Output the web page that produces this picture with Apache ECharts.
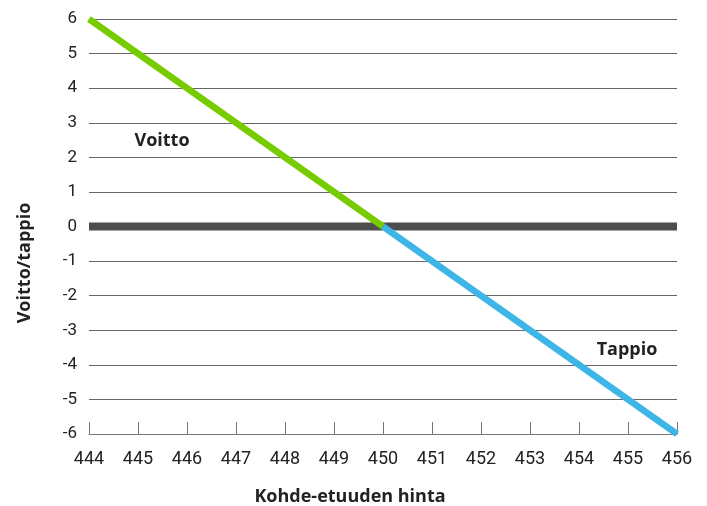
<!DOCTYPE html>
<html><head><meta charset="utf-8">
<script src="https://cdn.jsdelivr.net/npm/echarts@6/dist/echarts.min.js"></script>
<style>html,body{margin:0;padding:0;background:#fff}#c{width:707px;height:506px}</style>
</head><body><div id="c"></div>
<script>
const profitX = [444, 450];
const profitY = [6, 0];
const lossX = [450, 456];
const lossY = [0, -6];
const zeroX = [444, 456];
const zeroY = [0, 0];
const xTicks = [444,445,446,447,448,449,450,451,452,453,454,455,456];
const yTicks = [-6,-5,-4,-3,-2,-1,0,1,2,3,4,5,6];
const xName = 'Kohde-etuuden hinta';
const yName = 'Voitto/tappio';
const profitLabel = 'Voitto';
const lossLabel = 'Tappio';

const zip = (a,b) => a.map((v,i)=>[v,b[i]]);
const font = 'Roboto, "DejaVu Sans", sans-serif';
const bold = 'bold 18px "Open Sans", Roboto, sans-serif';
const chart = echarts.init(document.getElementById('c'));
chart.setOption({
  animation:false,
  grid:{left:89,right:30,top:19,bottom:72,containLabel:false,outerBoundsMode:'none'},
  xAxis:{type:'value',min:xTicks[0],max:xTicks[xTicks.length-1],interval:1,
    axisLine:{show:true,onZero:false,lineStyle:{color:'#777',width:1}},
    axisTick:{show:true,inside:true,length:12,lineStyle:{color:'#777'}},
    axisLabel:{fontFamily:font,fontSize:18,color:'#222',margin:16},
    splitLine:{show:false}},
  yAxis:{type:'value',min:yTicks[0],max:yTicks[yTicks.length-1],interval:1,
    axisLine:{show:false},axisTick:{show:false},
    axisLabel:{fontFamily:font,fontSize:17,color:'#222',margin:12},
    splitLine:{show:true,lineStyle:{color:'#666',width:1}}},
  graphic:[
    {type:'text',x:25,y:263,rotation:Math.PI/2,style:{text:yName,font:bold,fill:'#222',align:'center',verticalAlign:'middle'}},
    {type:'text',x:350,y:497,style:{text:xName,font:bold,fill:'#222',align:'center',verticalAlign:'middle'}},
    {type:'text',x:162,y:141,style:{text:profitLabel,font:bold,fill:'#222',align:'center',verticalAlign:'middle'}},
    {type:'text',x:627,y:350,style:{text:lossLabel,font:bold,fill:'#222',align:'center',verticalAlign:'middle'}}
  ],
  series:[
    {type:'line',data:zip(zeroX,zeroY),symbol:'none',lineStyle:{color:'#4d4d4d',width:8},z:2},
    {type:'line',data:zip(profitX,profitY),symbol:'none',lineStyle:{color:'#77cc00',width:6.5,cap:'butt'},z:3},
    {type:'line',data:zip(lossX,lossY),symbol:'none',lineStyle:{color:'#3db5e6',width:6.5,cap:'butt'},z:3}
  ]
});
</script></body></html>
